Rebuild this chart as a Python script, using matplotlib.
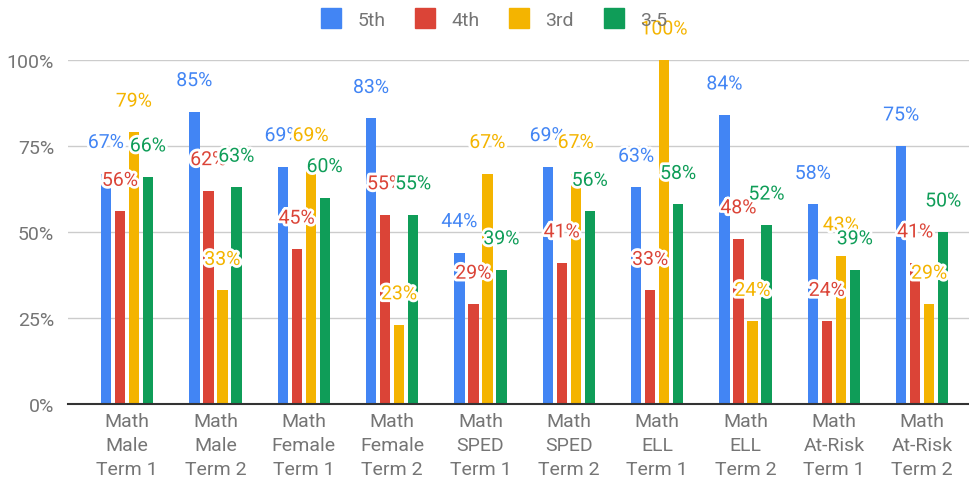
import numpy as np
import matplotlib
matplotlib.use("Agg")
import matplotlib.pyplot as plt
import matplotlib.patheffects as pe
from matplotlib.lines import Line2D

plt.rcParams['font.family'] = ['Roboto', 'DejaVu Sans']

categories = ["Math\nMale\nTerm 1", "Math\nMale\nTerm 2", "Math\nFemale\nTerm 1",
              "Math\nFemale\nTerm 2", "Math\nSPED\nTerm 1", "Math\nSPED\nTerm 2",
              "Math\nELL\nTerm 1", "Math\nELL\nTerm 2", "Math\nAt-Risk\nTerm 1",
              "Math\nAt-Risk\nTerm 2"]
series_names = ["5th", "4th", "3rd", "3-5"]
fifth = [67, 85, 69, 83, 44, 69, 63, 84, 58, 75]
fourth = [56, 62, 45, 55, 29, 41, 33, 48, 24, 41]
third = [79, 33, 69, 23, 67, 67, 100, 24, 43, 29]
three_to_five = [66, 63, 60, 55, 39, 56, 58, 52, 39, 50]
yticks = [0, 25, 50, 75, 100]

colors = ["#4285F4", "#DB4437", "#F4B400", "#0F9D58"]
gray = "#757575"

fig = plt.figure(figsize=(9.7, 4.81), dpi=100)
ax = fig.add_axes([68 / 970, 1 - 405 / 481, 902 / 970, 344 / 481])

x = np.arange(len(categories))
step = 0.1585
width = 0.117
all_series = [fifth, fourth, third, three_to_five]

for i, (name, vals) in enumerate(zip(series_names, all_series)):
    xs = x + (i - 1.5) * step
    ax.bar(xs, np.array(vals) / 100, width=width, color=colors[i], zorder=2)

# data labels drawn after all bars, series by series
for i, vals in enumerate(all_series):
    xs = x + (i - 1.5) * step
    for xi, v in zip(xs, vals):
        ax.annotate(f"{v}%", (xi, v / 100), xytext=(0, 22), textcoords="offset points",
                    ha="center", va="center", fontsize=14, color=colors[i],
                    zorder=5, annotation_clip=False,
                    path_effects=[pe.withStroke(linewidth=4, foreground="white")])

ax.set_xlim(-0.668, 9.54)
ax.set_ylim(0, 1.0)
ax.set_yticks([t / 100 for t in yticks])
ax.set_yticklabels([f"{t}%" for t in yticks])
ax.set_xticks(x)
ax.set_xticklabels(categories)
for t in ax.get_xticklabels():
    t.set_linespacing(1.4)
ax.tick_params(axis="both", length=0, labelsize=14, labelcolor=gray)
ax.tick_params(axis="y", pad=10)
ax.tick_params(axis="x", pad=6)
ax.grid(axis="y", color="#cccccc", linewidth=1, zorder=0)
ax.set_axisbelow(True)
for s in ["top", "right", "left"]:
    ax.spines[s].set_visible(False)
ax.spines["bottom"].set_color("#333333")
ax.spines["bottom"].set_linewidth(1.5)
ax.spines["bottom"].set_zorder(3)

handles = [Line2D([], [], marker="s", linestyle="", markersize=15, color=c) for c in colors]
fig.legend(handles, series_names, loc="upper center", bbox_to_anchor=(0.509, 1.0), ncol=4,
           frameon=False, fontsize=14, labelcolor=gray, handlelength=1.1,
           handletextpad=0.8, columnspacing=1.5, borderaxespad=0.2)

fig.savefig("out.png", dpi=100)
